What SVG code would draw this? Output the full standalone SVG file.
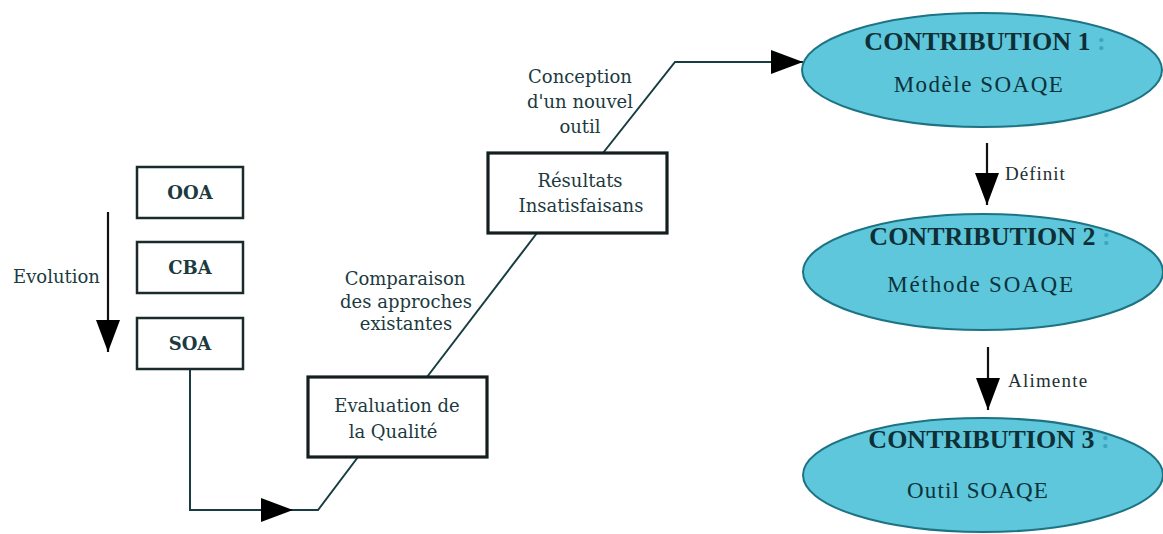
<svg xmlns="http://www.w3.org/2000/svg" width="1163" height="534" viewBox="0 0 1163 534">
<style>
.box{fill:#ffffff;stroke:#1b2b2c;stroke-width:2.5}
.box2{fill:#ffffff;stroke:#141e1f;stroke-width:3.2}
.ell{fill:#5ec7db;stroke:#1d7384;stroke-width:2}
.lbl{font-family:"DejaVu Serif",serif;font-size:18px;fill:#1c3a40}
.bold{font-family:"DejaVu Serif",serif;font-size:18px;font-weight:bold;fill:#1c3a40}
.ctit{font-family:"Liberation Serif","Times New Roman",serif;font-size:26px;font-weight:bold;fill:#0f2f36}
.csub{font-family:"Liberation Serif","Times New Roman",serif;font-size:23px;fill:#0c3239}
.arl{font-family:"Liberation Serif","Times New Roman",serif;font-size:19px;fill:#1c2f33}
.con{fill:none;stroke:#173c42;stroke-width:2}
.con2{fill:none;stroke:#111;stroke-width:2.2}
.colon{fill:#3aa6bf}
</style>
<defs>
<marker id="ah" viewBox="0 0 32 24" refX="32" refY="12" markerWidth="32" markerHeight="24" markerUnits="userSpaceOnUse" orient="auto">
<path d="M0,0 L32,12 L0,24 z" fill="#000"/>
</marker>
</defs>
<rect width="1163" height="534" fill="#ffffff"/>

<g id="connectors">
<path class="con2" d="M108,212 L108,352" marker-end="url(#ah)"/>
<path class="con" d="M190,369 L190,510 L293,510" marker-end="url(#ah)"/>
<path class="con" d="M293,510 L318,510 L358,457"/>
<path class="con" d="M427,377 L537,233"/>
<path class="con" d="M603,153 L675,62 L803,62" marker-end="url(#ah)"/>
<path class="con2" d="M987,143 L987,205" marker-end="url(#ah)"/>
<path class="con2" d="M988,347 L988,410" marker-end="url(#ah)"/>
<text class="lbl" x="13" y="283">Evolution</text>
<text class="lbl" text-anchor="middle"><tspan x="405" y="285">Comparaison</tspan><tspan x="406" y="308">des approches</tspan><tspan x="406" y="330">existantes</tspan></text>
<text class="lbl" text-anchor="middle"><tspan x="580" y="83">Conception</tspan><tspan x="580" y="108">d'un nouvel</tspan><tspan x="580" y="133">outil</tspan></text>
<text class="arl" x="1005" y="180" letter-spacing="1">Définit</text>
<text class="arl" x="1008" y="387" letter-spacing="1.2">Alimente</text>
</g>

<g id="ooa">
<rect class="box" x="137" y="167" width="106" height="51"/>
<text class="bold" x="190" y="199" text-anchor="middle">OOA</text>
</g>
<g id="cba">
<rect class="box" x="137" y="242" width="106" height="51"/>
<text class="bold" x="190" y="274" text-anchor="middle">CBA</text>
</g>
<g id="soa">
<rect class="box" x="137" y="318" width="106" height="51"/>
<text class="bold" x="190" y="350" text-anchor="middle">SOA</text>
</g>

<g id="evaluation">
<rect class="box2" x="308" y="377" width="179" height="80"/>
<text class="lbl" text-anchor="middle"><tspan x="397" y="412">Evaluation de</tspan><tspan x="393" y="438">la Qualité</tspan></text>
</g>

<g id="resultats">
<rect class="box2" x="488" y="153" width="179" height="80"/>
<text class="lbl" text-anchor="middle"><tspan x="580" y="187">Résultats</tspan><tspan x="581" y="212">Insatisfaisans</tspan></text>
</g>

<g id="contribution1">
<ellipse class="ell" cx="982" cy="70" rx="180" ry="57"/>
<text class="ctit" x="985" y="50" text-anchor="middle">CONTRIBUTION 1 <tspan class="colon">:</tspan></text>
<text class="csub" x="979" y="92" text-anchor="middle" letter-spacing="1.5">Modèle SOAQE</text>
</g>

<g id="contribution2">
<ellipse class="ell" cx="983" cy="272" rx="180" ry="58"/>
<text class="ctit" x="990" y="245" text-anchor="middle">CONTRIBUTION 2 <tspan class="colon">:</tspan></text>
<text class="csub" x="981" y="292" text-anchor="middle" letter-spacing="1.8">Méthode SOAQE</text>
</g>

<g id="contribution3">
<ellipse class="ell" cx="983" cy="475" rx="180" ry="57"/>
<text class="ctit" x="989" y="448" text-anchor="middle">CONTRIBUTION 3 <tspan class="colon">:</tspan></text>
<text class="csub" x="978" y="498" text-anchor="middle" letter-spacing="1.1">Outil SOAQE</text>
</g>
</svg>
